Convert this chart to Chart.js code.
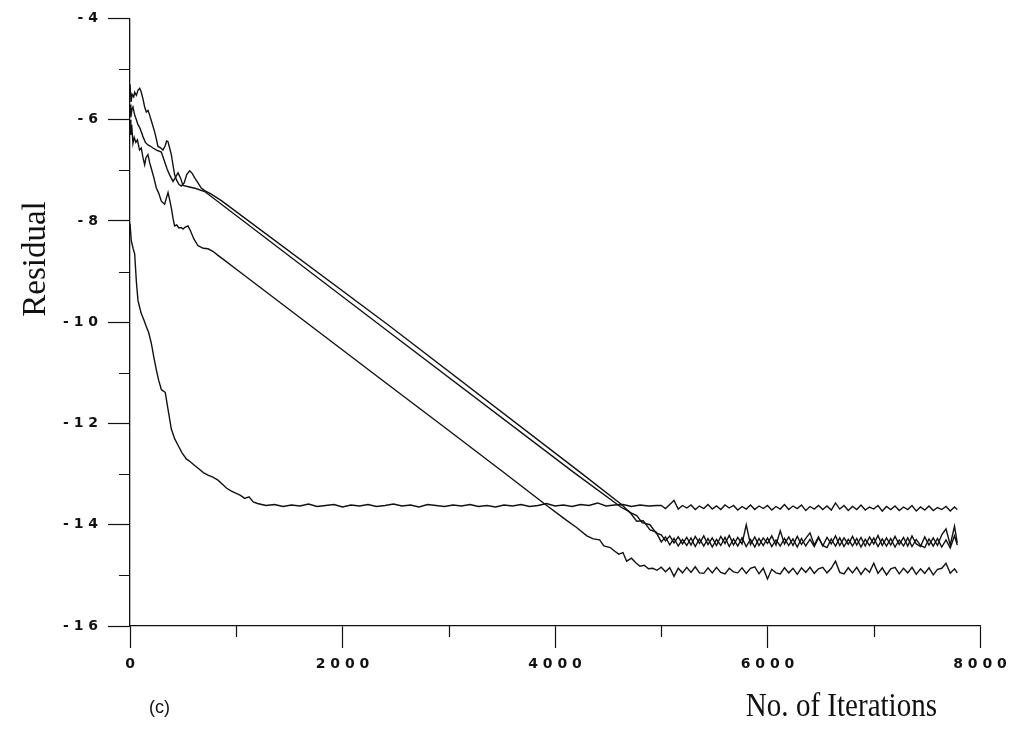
<!DOCTYPE html>
<html>
<head>
<meta charset="utf-8">
<title>Residual vs No. of Iterations</title>
<script src="https://cdn.jsdelivr.net/npm/chart.js@4.4.0/dist/chart.umd.min.js"></script>
<style>
  body { margin: 0; background: #fff; }
  #wrap { width: 1016px; height: 729px; position: relative; }
</style>
</head>
<body>
<div id="wrap"><canvas id="residual-chart"></canvas></div>
<script>
/* DATA */

// tick labels
const xTickLabels = ['0', '2000', '4000', '6000', '8000'];
const yTickLabels = ['-4', '-6', '-8', '-10', '-12', '-14', '-16'];
const xMinorTicks = [1000, 3000, 5000, 7000];
const yMinorTicks = [-5, -7, -9, -11, -13, -15];

// shared iterations for the noisy tails
const tailIters = [
    5000, 5040, 5080, 5120, 5160, 5200, 5240, 5280, 5320, 5360,
    5400, 5440, 5480, 5520, 5560, 5600, 5640, 5680, 5720, 5760,
    5800, 5840, 5880, 5920, 5960, 6000, 6040, 6080, 6120, 6160,
    6200, 6240, 6280, 6320, 6360, 6400, 6440, 6480, 6520, 6560,
    6600, 6640, 6680, 6720, 6760, 6800, 6840, 6880, 6920, 6960,
    7000, 7040, 7080, 7120, 7160, 7200, 7240, 7280, 7320, 7360,
    7400, 7440, 7480, 7520, 7560, 7600, 7640, 7680, 7720, 7760, 7786
];

// series A - fast drop, levels at about -13.6
const iterA = [
    0, 12, 30, 44, 60, 75, 90, 106, 130, 154,
    175, 200, 225, 248, 270, 295, 315, 332, 358, 389,
    420, 452, 490, 530, 570, 609, 650, 690, 734, 780,
    828, 870, 910, 950, 1000, 1040, 1080, 1120, 1160, 1200, 1240,
    1280, 1360, 1440, 1520, 1600, 1680, 1760, 1840, 1920, 2000,
    2080, 2160, 2240, 2320, 2400, 2480, 2560, 2640, 2720, 2800,
    2880, 2960, 3040, 3120, 3200, 3280, 3360, 3440, 3520, 3600,
    3680, 3760, 3840, 3920, 4000, 4080, 4160, 4240, 4320, 4400,
    4480, 4560, 4640, 4720, 4800, 4880, 4960
];
const resA = [
    -8.05, -8.39, -8.55, -8.65, -9.2, -9.57, -9.7, -9.83, -9.95, -10.09,
    -10.2, -10.41, -10.7, -10.94, -11.15, -11.33, -11.36, -11.39, -11.72, -12.11,
    -12.3, -12.43, -12.58, -12.70, -12.76, -12.83, -12.9, -12.97, -13.02, -13.06,
    -13.12, -13.2, -13.28, -13.33, -13.38, -13.42, -13.48, -13.45, -13.55, -13.58, -13.6,
    -13.62, -13.60, -13.64, -13.61, -13.63, -13.59, -13.64, -13.62, -13.60, -13.65,
    -13.61, -13.63, -13.60, -13.64, -13.62, -13.59, -13.63, -13.61, -13.65, -13.60,
    -13.62, -13.64, -13.61, -13.63, -13.60, -13.64, -13.62, -13.65, -13.61, -13.63,
    -13.60, -13.64, -13.62, -13.58, -13.63, -13.61, -13.64, -13.60, -13.62, -13.57,
    -13.63, -13.61, -13.60, -13.64, -13.61, -13.63, -13.62
];
const tailA = [
    -13.62, -13.68, -13.60, -13.52, -13.69, -13.62, -13.67, -13.61, -13.70, -13.63,
    -13.68, -13.60, -13.69, -13.63, -13.70, -13.61, -13.67, -13.62, -13.71, -13.64,
    -13.69, -13.61, -13.70, -13.63, -13.68, -13.62, -13.71, -13.64, -13.69, -13.60,
    -13.70, -13.63, -13.68, -13.61, -13.72, -13.64, -13.69, -13.62, -13.70, -13.63,
    -13.71, -13.57, -13.69, -13.62, -13.72, -13.64, -13.70, -13.61, -13.71, -13.65,
    -13.69, -13.62, -13.73, -13.64, -13.70, -13.63, -13.72, -13.65, -13.70, -13.62,
    -13.73, -13.65, -13.71, -13.63, -13.72, -13.66, -13.70, -13.64, -13.73, -13.65, -13.70
];

// series B - top start, upper of the two parallel lines
const iterB = [
    0, 10, 20, 35, 44, 60, 75, 91, 105, 122,
    138, 154, 170, 185, 205, 232, 250, 263, 285, 310,
    330, 345, 357, 372, 389, 405, 420, 440, 462, 483,
    510, 535, 562, 585, 609, 640, 671, 703, 765, 860,
    2428, 4235, 4626, 4700, 4769, 4820, 4894, 4950
];
const resB = [
    -5.3, -5.65, -5.5, -5.55, -5.46, -5.52, -5.42, -5.38, -5.45, -5.59,
    -5.75, -5.85, -5.82, -5.91, -6.05, -6.24, -6.4, -6.53, -6.55, -6.60,
    -6.52, -6.42, -6.43, -6.55, -6.69, -6.9, -7.09, -7.2, -7.28, -7.31,
    -7.25, -7.08, -7.01, -7.06, -7.15, -7.25, -7.35, -7.40, -7.47, -7.60,
    -10.05, -12.96, -13.60, -13.75, -13.82, -13.96, -14.00, -14.16
];
const tailB = [
    -14.20, -14.32, -14.22, -14.36, -14.24, -14.38, -14.25, -14.40, -14.23, -14.37,
    -14.22, -14.39, -14.26, -14.41, -14.23, -14.37, -14.21, -14.40, -14.25, -14.38,
    -14.00, -14.39, -14.24, -14.41, -14.26, -14.37, -14.22, -14.40, -14.12, -14.38,
    -14.24, -14.41, -14.23, -14.39, -14.27, -14.16, -14.40, -14.24, -14.42, -14.25,
    -14.38, -14.22, -14.41, -14.26, -14.39, -14.23, -14.40, -14.25, -14.42, -14.24,
    -14.38, -14.21, -14.41, -14.26, -14.40, -14.23, -14.39, -14.25, -14.42, -14.22,
    -14.38, -14.43, -14.24, -14.40, -14.26, -14.41, -14.20, -14.08, -14.40, -14.03, -14.36
];

// series C - middle start, lower of the two parallel lines
const iterC = [
    0, 8, 18, 28, 44, 60, 75, 90, 106, 125,
    145, 169, 190, 216, 250, 295, 326, 350, 373, 405,
    425, 452, 475, 499, 560, 620, 703, 2428, 4173, 4626,
    4700, 4769, 4830, 4894, 4950
];
const resC = [
    -5.7, -5.95, -5.8, -5.75, -5.91, -6.0, -6.1, -6.15, -6.24, -6.35,
    -6.45, -6.50, -6.52, -6.56, -6.6, -6.64, -6.83, -6.98, -7.09, -7.22,
    -7.15, -7.05, -7.15, -7.30, -7.33, -7.36, -7.42, -10.18, -12.96, -13.66,
    -13.74, -13.93, -13.92, -14.10, -14.14
];
const tailC = [
    -14.34, -14.24, -14.40, -14.27, -14.42, -14.29, -14.41, -14.26, -14.43, -14.28,
    -14.42, -14.27, -14.44, -14.29, -14.41, -14.25, -14.43, -14.28, -14.42, -14.26,
    -14.43, -14.29, -14.44, -14.27, -14.41, -14.26, -14.43, -14.30, -14.42, -14.27,
    -14.41, -14.28, -14.44, -14.27, -14.42, -14.29, -14.43, -14.26, -14.41, -14.45,
    -14.28, -14.42, -14.26, -14.43, -14.29, -14.42, -14.27, -14.44, -14.29, -14.41,
    -14.26, -14.43, -14.28, -14.42, -14.27, -14.44, -14.30, -14.42, -14.26, -14.43,
    -14.29, -14.41, -14.45, -14.28, -14.42, -14.27, -14.44, -14.30, -14.46, -14.22, -14.40
];

// series D - lowest of the upper group, ends at about -14.9
const iterD = [
    0, 8, 16, 28, 40, 55, 70, 90, 106, 122,
    138, 150, 169, 185, 200, 225, 248, 270, 295, 326,
    342, 358, 375, 389, 405, 420, 440, 460, 483, 500,
    520, 546, 570, 600, 640, 690, 734, 780, 828, 891,
    1016, 2428, 3000, 3500, 3922, 4100, 4200, 4300, 4360, 4420,
    4460, 4520, 4560, 4600, 4640, 4674, 4720, 4760, 4800, 4840,
    4880, 4920, 4960
];
const resD = [
    -6.0, -6.3, -6.1, -6.47, -6.35, -6.45, -6.4, -6.6, -6.56, -6.75,
    -6.89, -6.75, -6.69, -6.85, -6.96, -7.15, -7.35, -7.45, -7.61, -7.67,
    -7.55, -7.44, -7.6, -7.74, -7.95, -8.10, -8.08, -8.14, -8.13, -8.16,
    -8.12, -8.10, -8.2, -8.35, -8.49, -8.54, -8.55, -8.6, -8.68, -8.78,
    -8.98, -11.23, -12.14, -12.94, -13.62, -13.9, -14.05, -14.22, -14.28, -14.3,
    -14.42, -14.45, -14.52, -14.58, -14.55, -14.72, -14.66, -14.75, -14.82, -14.8,
    -14.87, -14.86, -14.90
];
const tailD = [
    -14.84, -14.93, -14.85, -15.02, -14.86, -14.95, -14.84, -14.94, -14.83, -14.95,
    -14.96, -14.85, -14.95, -14.84, -14.94, -14.97, -14.86, -14.93, -14.95, -14.85,
    -14.96, -14.86, -14.83, -14.97, -14.86, -15.07, -14.88, -14.95, -14.97, -14.85,
    -14.95, -14.86, -14.98, -14.85, -14.94, -14.84, -14.96, -14.87, -14.84, -14.95,
    -14.86, -14.72, -14.94, -14.97, -14.85, -14.95, -14.84, -14.98, -14.86, -14.94,
    -14.76, -14.96, -14.85, -14.99, -14.87, -14.84, -14.97, -14.86, -14.95, -14.84,
    -14.98, -14.87, -14.96, -14.85, -14.99, -14.88, -14.86, -14.76, -14.96, -14.87, -14.95
];

/* MAIN */

function toPoints(xs, ys) {
    return xs.map(function (x, i) { return { x: x, y: ys[i] }; });
}

function spaced(label) {
    return label.split('').join(' ');
}

function lineSet(xs, ys) {
    return {
        data: toPoints(xs, ys),
        showLine: true,
        borderColor: '#111',
        borderWidth: 1.4,
        pointRadius: 0,
        tension: 0,
        fill: false
    };
}

// minor ticks and the text labels around the plot
const extras = {
    id: 'extras',
    afterDraw(chart) {
        const ctx = chart.ctx;
        const xs = chart.scales.x;
        const ys = chart.scales.y;
        ctx.save();
        ctx.strokeStyle = '#111';
        ctx.lineWidth = 1.2;
        ctx.beginPath();
        xMinorTicks.forEach(function (v) {
            const px = Math.round(xs.getPixelForValue(v)) + 0.5;
            ctx.moveTo(px, ys.bottom);
            ctx.lineTo(px, ys.bottom + 11);
        });
        yMinorTicks.forEach(function (v) {
            const py = Math.round(ys.getPixelForValue(v)) + 0.5;
            ctx.moveTo(xs.left, py);
            ctx.lineTo(xs.left - 11, py);
        });
        ctx.stroke();

        ctx.fillStyle = '#111';
        ctx.textBaseline = 'alphabetic';

        // x title, a bit condensed like the original typeface
        ctx.save();
        ctx.translate(937, 716);
        ctx.scale(0.88, 1);
        ctx.font = '33px "Liberation Serif"';
        ctx.textAlign = 'right';
        ctx.fillText('No. of Iterations', 0, 0);
        ctx.restore();

        ctx.font = '18px "Liberation Sans"';
        ctx.textAlign = 'left';
        ctx.fillText('(c)', 149, 713);

        ctx.translate(45, 259);
        ctx.rotate(-Math.PI / 2);
        ctx.font = '33px "Liberation Serif"';
        ctx.textAlign = 'center';
        ctx.fillText('Residual', 0, 0);
        ctx.restore();
    }
};

const tickFont = { family: 'DejaVu Sans', weight: 'bold', size: 14 };

let residualCanvas = document.getElementById('residual-chart').getContext('2d');
var residualChart = new Chart(residualCanvas, {
    type: 'scatter',
    data: {
        datasets: [
            lineSet(iterA.concat(tailIters), resA.concat(tailA)),
            lineSet(iterB.concat(tailIters), resB.concat(tailB)),
            lineSet(iterC.concat(tailIters), resC.concat(tailC)),
            lineSet(iterD.concat(tailIters), resD.concat(tailD))
        ]
    },
    options: {
        responsive: true,
        maintainAspectRatio: false,
        animation: false,
        layout: { padding: { top: 12, right: 36, bottom: 0, left: 0 } },
        plugins: {
            legend: { display: false },
            tooltip: { enabled: false }
        },
        scales: {
            x: {
                type: 'linear',
                min: 0,
                max: 8000,
                afterFit: function (scale) { scale.height = 103; },
                ticks: {
                    stepSize: 2000,
                    autoSkip: false,
                    maxRotation: 0,
                    padding: 8,
                    color: '#111',
                    font: tickFont,
                    callback: function (value) {
                        const i = Math.round(value / 2000);
                        return xTickLabels[i] !== undefined ? spaced(xTickLabels[i]) : '';
                    }
                },
                grid: {
                    drawOnChartArea: false,
                    drawTicks: true,
                    tickLength: 22,
                    tickColor: '#111',
                    tickWidth: 1.2
                },
                border: { display: true, color: '#111', width: 1.3 }
            },
            y: {
                type: 'linear',
                min: -16,
                max: -4,
                afterFit: function (scale) { scale.width = 130; },
                ticks: {
                    stepSize: 2,
                    autoSkip: false,
                    padding: 10,
                    color: '#111',
                    font: tickFont,
                    callback: function (value) {
                        const i = Math.round((-4 - value) / 2);
                        return yTickLabels[i] !== undefined ? spaced(yTickLabels[i]) : '';
                    }
                },
                grid: {
                    drawOnChartArea: false,
                    drawTicks: true,
                    tickLength: 22,
                    tickColor: '#111',
                    tickWidth: 1.2
                },
                border: { display: true, color: '#111', width: 1.3 }
            }
        }
    },
    plugins: [extras]
});
</script>
</body>
</html>
